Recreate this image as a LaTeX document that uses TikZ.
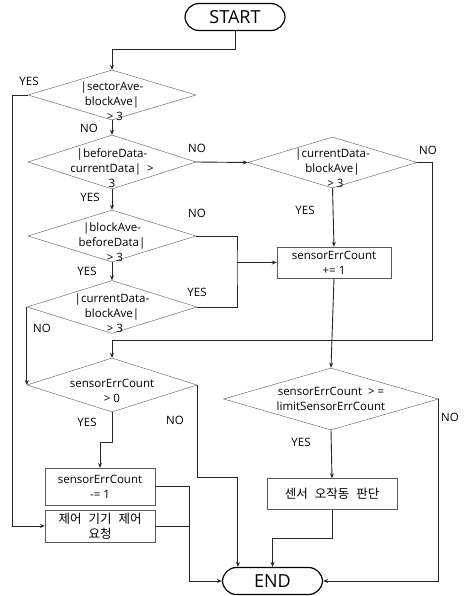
\documentclass[tikz,border=0pt]{standalone}
\usepackage{fontspec}
\setmainfont{Open Sans}
\newfontfamily\kr[WordSpace=2.5]{Noto Sans CJK KR}
\usetikzlibrary{shapes.geometric,arrows.meta}

\begin{document}
\begin{tikzpicture}[x=1pt,y=-1pt]
        \tikzstyle{every node}=[font=\fontsize{11.5}{15}\selectfont]
        \tikzstyle{term}=[draw,line width=1.2pt,rounded corners=14pt,minimum width=100,minimum height=27,font=\fontsize{18}{20}\selectfont]
        \tikzstyle{cond}=[draw=black!65,diamond,inner sep=0pt]
        \tikzstyle{proc}=[draw=black!65,rectangle,inner sep=1pt,align=center]
        \tikzstyle{txt}=[align=center,yshift=-6pt]
        \tikzstyle{line}=[line width=0.9pt,black!85]
        \tikzstyle{arr}=[line,-{Stealth[length=5pt,width=4pt]}]
        \useasboundingbox (0,0) rectangle (463,596);
        \begin{scope}
           \node[term] (start) at (235,17) {START};
           \node[term] (end) at (272.5,581) {END};

           \node[cond,minimum width=168,minimum height=50,label={[txt]center:{|sectorAve-\\blockAve|\\\ \ > 3}}] (d1) at (112,95) {};
           \node[cond,minimum width=168,minimum height=54,label={[txt]center:{|beforeData-\\currentData|\ \ >\\3}}] (d2) at (112,162) {};
           \node[cond,minimum width=169,minimum height=51,label={[txt]center:{|currentData-\\blockAve|\\\ \ > 3}}] (d3) at (332.5,162.5) {};
           \node[cond,minimum width=168,minimum height=52,label={[txt]center:{|blockAve-\\beforeData|\\\ \ > 3}}] (d4) at (112,236) {};
           \node[cond,minimum width=170,minimum height=53,label={[txt]center:{|currentData-\\blockAve|\\\ \ > 3}}] (d5) at (112,307) {};
           \node[cond,minimum width=170,minimum height=54,label={[txt]center:{sensorErrCount\\> 0}}] (d6) at (112,385) {};
           \node[cond,minimum width=215,minimum height=62,label={[align=center]center:{sensorErrCount\ \ > =\\limitSensorErrCount}}] (d7) at (331,399) {};

           \node[proc,minimum width=114,minimum height=31] (b1) at (334,262.5) {sensorErrCount\\+= 1};
           \node[proc,minimum width=110,minimum height=37] (b2) at (100,486.5) {sensorErrCount\\-= 1};
           \node[proc,minimum width=110,minimum height=32,font=\kr\fontsize{12.5}{15}\selectfont] (b3) at (100,526) {제어 기기 제어\\요청};
           \node[proc,minimum width=130,minimum height=31,font=\kr\fontsize{12.5}{15}\selectfont] (b4) at (332,494) {센서 오작동 판단};

           \node (yes1) at (29,81) {YES};
           \node (no1) at (89,128) {NO};
           \node (no2) at (197,148) {NO};
           \node (no3) at (428,150) {NO};
           \node (yes2) at (90,197) {YES};
           \node (yes3) at (305,210) {YES};
           \node (no4) at (197,213) {NO};
           \node (yes4) at (87,271) {YES};
           \node (yes5) at (197,292) {YES};
           \node (no5) at (42,328) {NO};
           \node (yes6) at (87,422) {YES};
           \node (no6) at (175,420) {NO};
           \node (no7) at (450,417) {NO};
           \node (yes7) at (301,442) {YES};

           \draw[arr] (start.south) -- ++(0,18) -| (d1.north);
           \draw[arr] (d1.west) -- ++(-15,0) |- (b3.west);
           \draw[arr] (d1.south) -- (d2.north);
           \draw[arr] (d2.east) -- (d3.west);
           \draw[arr] (d3.east) -- ++(15,0) -- ++(0,178) -| (d6.north);
           \draw[arr] (d3.south) -- (b1.north);
           \draw[arr] (d2.south) -- (d4.north);
           \coordinate (j1) at (237,262.5);
           \draw[line] (d4.east) -| (j1) |- (d5.east);
           \draw[arr] (j1) -- (b1.west);
           \draw[arr] (d4.south) -- (d5.north);
           \draw[arr] (d5.west) -- (d6.west);
           \draw[arr] (d6.south) -- ++(0,30) -| (b2.north);
           \draw[arr] (d6.east) -- ++(0,92) -| ([xshift=16pt]end.north west);
           \draw[arr] (b1.south) -- (d7.north);
           \draw[arr] (d7.south) -- (b4.north);
           \draw[arr] (b4.south) -- ++(0,29) -| (end.north);
           \draw[arr] (d7.east) |- (end.east);
           \draw[arr] (b2.east) -- ++(34,0) |- (end.west);
           \draw[line] (b3.east) -- ++(34,0);
         \end{scope}
      \end{tikzpicture}
\end{document}
